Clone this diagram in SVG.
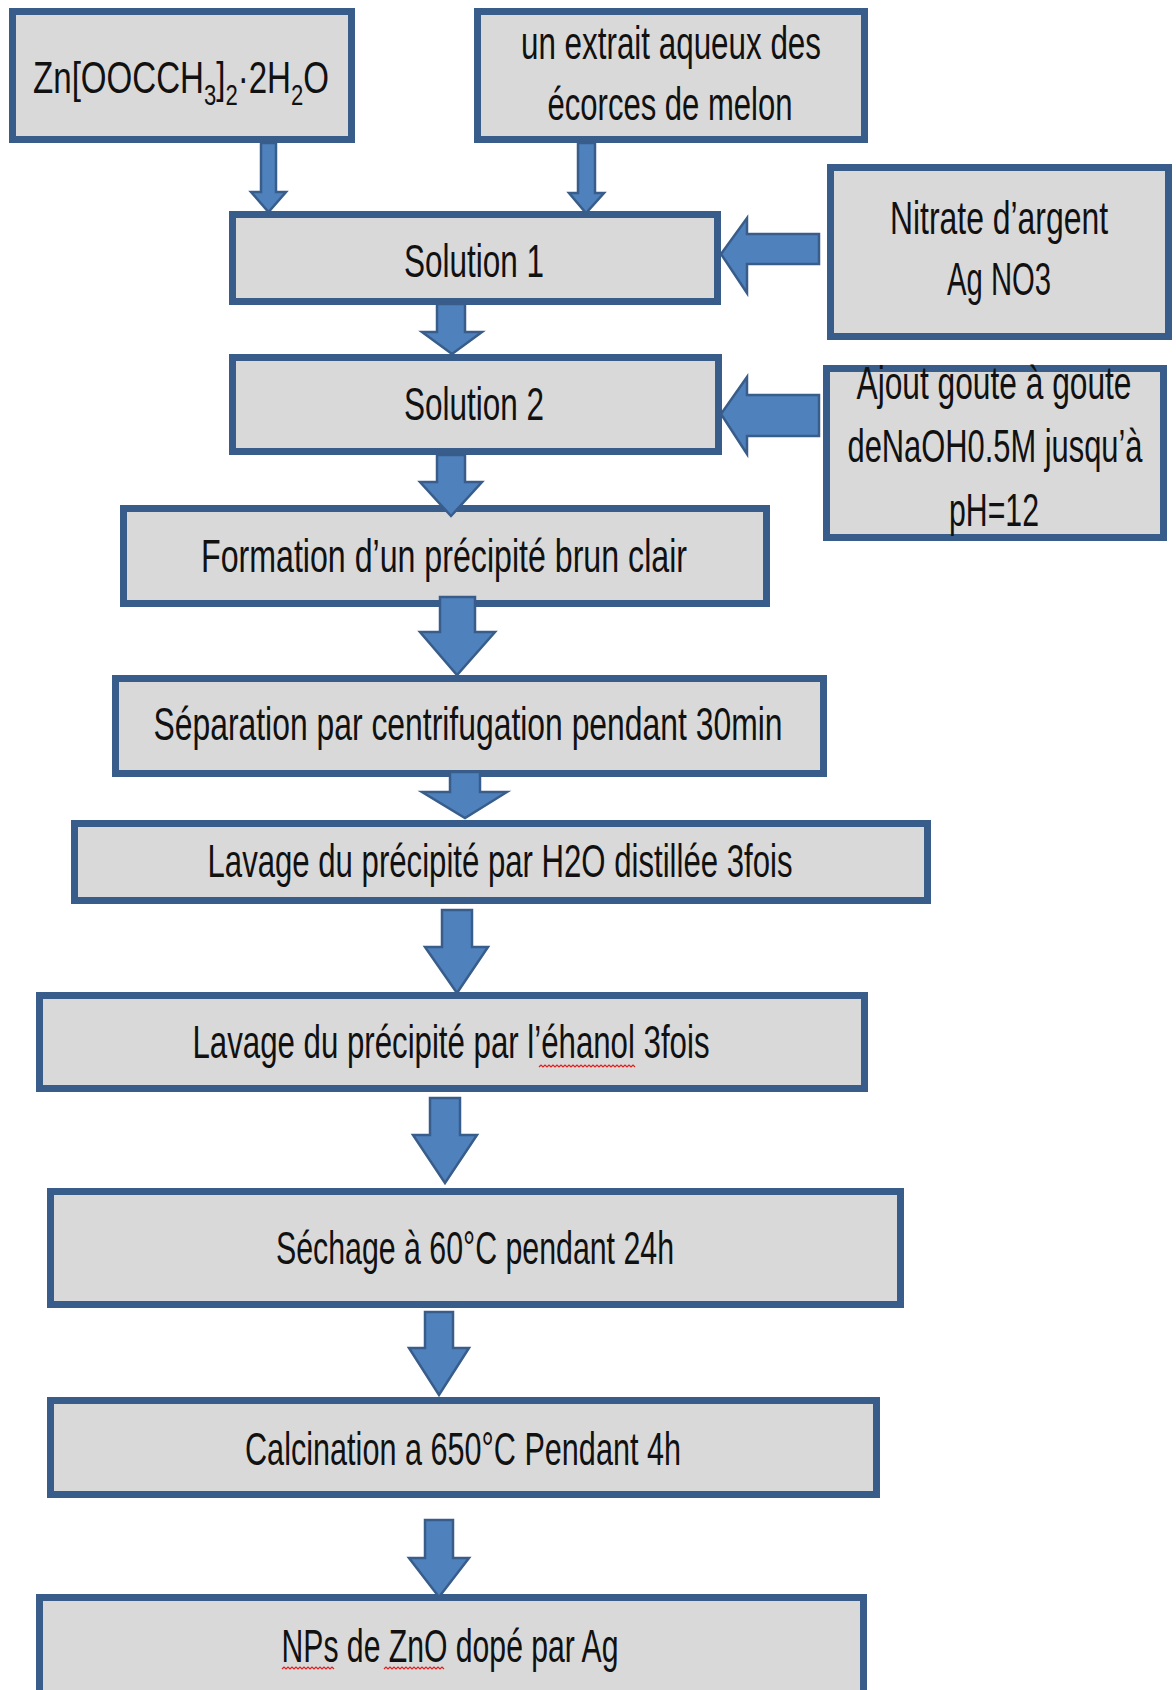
<svg xmlns="http://www.w3.org/2000/svg" width="1176" height="1690" viewBox="0 0 1176 1690">
<style>
.box{fill:#d9d9d9;stroke:#385d8a;stroke-width:7}
.arr{fill:#4f81bd;stroke:#385d8a;stroke-width:2.5;stroke-linejoin:miter}
.t{font-family:"Liberation Sans",Arial,sans-serif;font-size:46px;fill:#111;text-anchor:middle}
.z{font-size:45px}
.sub{font-size:30px}
.wavy{fill:none;stroke:#e02020;stroke-width:1.2}
</style>
<rect width="1176" height="1690" fill="#ffffff"/>
<g id="node-zn">
<rect class="box" x="12.5" y="11.5" width="339" height="128"/>
<text class="t z" transform="translate(181,93) scale(0.735,1)">Zn[OOCCH<tspan class="sub" dy="12">3</tspan><tspan dy="-12">]</tspan><tspan class="sub" dy="12">2</tspan><tspan dy="-12">·2H</tspan><tspan class="sub" dy="12">2</tspan><tspan dy="-12">O</tspan></text>
</g>
<g id="node-extrait">
<rect class="box" x="477.5" y="11.5" width="387" height="128"/>
<text class="t" x="671" y="59" textLength="300" lengthAdjust="spacingAndGlyphs">un extrait aqueux des</text>
<text class="t" x="670" y="120" textLength="245" lengthAdjust="spacingAndGlyphs">écorces de melon</text>
</g>
<g id="node-solution1">
<rect class="box" x="232.5" y="214.5" width="485" height="87"/>
<text class="t" x="474" y="277" textLength="140" lengthAdjust="spacingAndGlyphs">Solution 1</text>
</g>
<g id="node-nitrate">
<rect class="box" x="830.5" y="167.5" width="338" height="169"/>
<text class="t" x="999" y="234" textLength="218" lengthAdjust="spacingAndGlyphs">Nitrate d’argent</text>
<text class="t" x="999" y="295" textLength="104" lengthAdjust="spacingAndGlyphs">Ag NO3</text>
</g>
<g id="node-solution2">
<rect class="box" x="232.5" y="357.5" width="486" height="94"/>
<text class="t" x="474" y="420" textLength="140" lengthAdjust="spacingAndGlyphs">Solution 2</text>
</g>
<g id="node-ajout">
<rect class="box" x="826.5" y="368.5" width="337" height="169"/>
<text class="t" x="994" y="399" textLength="275" lengthAdjust="spacingAndGlyphs">Ajout goute à goute</text>
<text class="t" x="995" y="462" textLength="295" lengthAdjust="spacingAndGlyphs">deNaOH0.5M jusqu’à</text>
<text class="t" x="994" y="526" textLength="90" lengthAdjust="spacingAndGlyphs">pH=12</text>
</g>
<g id="node-formation">
<rect class="box" x="123.5" y="508.5" width="643" height="95"/>
<text class="t" x="444" y="572" textLength="486" lengthAdjust="spacingAndGlyphs">Formation d’un précipité brun clair</text>
</g>
<g id="node-separation">
<rect class="box" x="115.5" y="678.5" width="708" height="95"/>
<text class="t" x="468" y="740" textLength="629" lengthAdjust="spacingAndGlyphs">Séparation par centrifugation pendant 30min</text>
</g>
<g id="node-lavage-h2o">
<rect class="box" x="74.5" y="823.5" width="853" height="77"/>
<text class="t" x="500" y="877" textLength="585" lengthAdjust="spacingAndGlyphs">Lavage du précipité par H2O distillée 3fois</text>
</g>
<g id="node-lavage-ethanol">
<rect class="box" x="39.5" y="995.5" width="825" height="93"/>
<text class="t" x="451" y="1058" textLength="517" lengthAdjust="spacingAndGlyphs">Lavage du précipité par l’éhanol 3fois</text>
<path class="wavy" d="M539,1067l2,-2l2,2l2,-2l2,2l2,-2l2,2l2,-2l2,2l2,-2l2,2l2,-2l2,2l2,-2l2,2l2,-2l2,2l2,-2l2,2l2,-2l2,2l2,-2l2,2l2,-2l2,2l2,-2l2,2l2,-2l2,2l2,-2l2,2l2,-2l2,2l2,-2l2,2l2,-2l2,2l2,-2l2,2l2,-2l2,2l2,-2l2,2l2,-2l2,2l2,-2l2,2l2,-2l2,2"/>
</g>
<g id="node-sechage">
<rect class="box" x="50.5" y="1191.5" width="850" height="113"/>
<text class="t" x="475" y="1264" textLength="398" lengthAdjust="spacingAndGlyphs">Séchage à 60°C pendant 24h</text>
</g>
<g id="node-calcination">
<rect class="box" x="50.5" y="1400.5" width="826" height="94"/>
<text class="t" x="463" y="1465" textLength="436" lengthAdjust="spacingAndGlyphs">Calcination a 650°C Pendant 4h</text>
</g>
<g id="node-nps">
<rect class="box" x="39.5" y="1597.5" width="824" height="110"/>
<text class="t" x="450" y="1662" textLength="337" lengthAdjust="spacingAndGlyphs">NPs de ZnO dopé par Ag</text>
<path class="wavy" d="M282,1669l2,-2l2,2l2,-2l2,2l2,-2l2,2l2,-2l2,2l2,-2l2,2l2,-2l2,2l2,-2l2,2l2,-2l2,2l2,-2l2,2l2,-2l2,2l2,-2l2,2l2,-2l2,2l2,-2l2,2"/>
<path class="wavy" d="M384,1669l2,-2l2,2l2,-2l2,2l2,-2l2,2l2,-2l2,2l2,-2l2,2l2,-2l2,2l2,-2l2,2l2,-2l2,2l2,-2l2,2l2,-2l2,2l2,-2l2,2l2,-2l2,2l2,-2l2,2l2,-2l2,2l2,-2l2,2"/>
</g>
<g id="connectors">
<polygon class="arr" points="261,143 276,143 276,192 286,192 268.5,212 251,192 261,192"/>
<polygon class="arr" points="578,143 595,143 595,193 604,193 586,213 569,193 578,193"/>
<polygon class="arr" points="437,304 465,304 465,332 482,332 452,354 422,332 437,332"/>
<polygon class="arr" points="437,455 465,455 465,482 482,482 451,516 420,482 437,482"/>
<polygon class="arr" points="440,597 475,597 475,632 495,632 457,675 420,632 440,632"/>
<polygon class="arr" points="450,772 480,772 480,792 507,792 465,818 422,792 450,792"/>
<polygon class="arr" points="442,910 472,910 472,947 488,947 457,993 425,947 442,947"/>
<polygon class="arr" points="430,1098 460,1098 460,1135 477,1135 445,1183 413,1135 430,1135"/>
<polygon class="arr" points="425,1312 453,1312 453,1348 469,1348 439,1395 409,1348 425,1348"/>
<polygon class="arr" points="425,1520 453,1520 453,1558 469,1558 439,1597 409,1558 425,1558"/>
<polygon class="arr" points="819,234 819,264 747,264 747,293 721,254 747,218 747,234"/>
<polygon class="arr" points="819,395 819,436 747,436 747,454 721,414 747,377 747,395"/>
</g>
</svg>
